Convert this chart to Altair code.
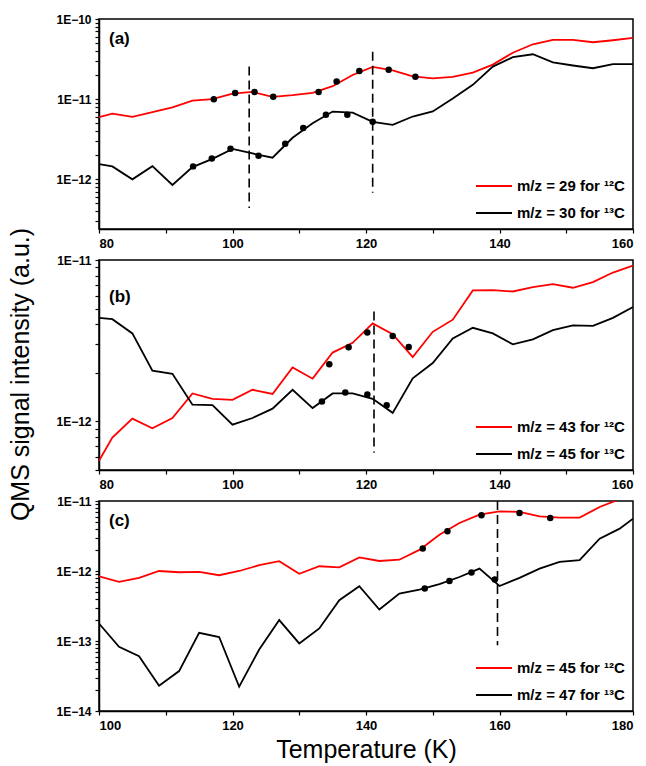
import altair as alt
import pandas as pd

# ---------------- data ----------------
T_AB = [80, 82, 85, 88, 91, 94, 97, 100, 103, 106, 109, 112, 115, 118, 121,
        124, 127, 130, 133, 136, 139, 142, 145, 148, 151, 154, 157, 160]
T_C = [100, 103, 106, 109, 112, 115, 118, 121, 124, 127, 130, 133, 136, 139,
       142, 145, 148, 151, 154, 157, 160, 163, 166, 169, 172, 175, 178, 180]

a_red = [5.97e-12, 6.6e-12, 6.0e-12, 6.9e-12, 7.9e-12, 9.6e-12, 1.0e-11, 1.17e-11,
         1.23e-11, 1.07e-11, 1.12e-11, 1.2e-11, 1.45e-11, 2.0e-11, 2.52e-11, 2.28e-11,
         1.92e-11, 1.82e-11, 1.9e-11, 2.15e-11, 2.7e-11, 3.8e-11, 4.84e-11, 5.48e-11,
         5.48e-11, 5.13e-11, 5.43e-11, 5.8e-11]
a_black = [1.55e-12, 1.45e-12, 1.0e-12, 1.46e-12, 8.5e-13, 1.42e-12, 1.8e-12, 2.4e-12,
           2.1e-12, 1.86e-12, 3.3e-12, 5.0e-12, 7.0e-12, 6.8e-12, 5.2e-12, 4.78e-12,
           6.07e-12, 7.03e-12, 1.02e-11, 1.51e-11, 2.55e-11, 3.34e-11, 3.63e-11, 2.88e-11,
           2.63e-11, 2.43e-11, 2.73e-11, 2.73e-11]

b_red = [5.7e-13, 7.94e-13, 1.04e-12, 9.06e-13, 1.05e-12, 1.49e-12, 1.38e-12, 1.36e-12,
         1.57e-12, 1.48e-12, 2.16e-12, 1.84e-12, 2.67e-12, 3.07e-12, 4.05e-12, 3.47e-12,
         2.5e-12, 3.59e-12, 4.27e-12, 6.48e-12, 6.5e-12, 6.38e-12, 6.79e-12, 7.08e-12,
         6.73e-12, 7.29e-12, 8.36e-12, 9.23e-12]
b_black = [4.38e-12, 4.3e-12, 3.51e-12, 2.06e-12, 1.97e-12, 1.27e-12, 1.26e-12, 9.54e-13,
           1.05e-12, 1.2e-12, 1.57e-12, 1.21e-12, 1.49e-12, 1.49e-12, 1.38e-12, 1.13e-12,
           1.85e-12, 2.3e-12, 3.27e-12, 3.8e-12, 3.51e-12, 3.0e-12, 3.22e-12, 3.68e-12,
           3.93e-12, 3.91e-12, 4.38e-12, 5.12e-12]

c_red = [8.4e-13, 6.98e-13, 7.97e-13, 1.0e-12, 9.6e-13, 9.7e-13, 8.7e-13, 1.0e-12,
         1.21e-12, 1.38e-12, 9.1e-13, 1.17e-12, 1.13e-12, 1.56e-12, 1.39e-12, 1.45e-12,
         2.0e-12, 3.3e-12, 4.86e-12, 6.4e-12, 7.1e-12, 6.97e-12, 6.04e-12, 5.78e-12,
         5.78e-12, 8.2e-12, 1.06e-11, 1.2e-11]
c_black = [1.78e-13, 8.26e-14, 6.08e-14, 2.3e-14, 3.72e-14, 1.31e-13, 1.14e-13, 2.22e-14,
           7.57e-14, 1.99e-13, 9.23e-14, 1.51e-13, 3.83e-13, 6.06e-13, 2.82e-13, 4.77e-13,
           5.4e-13, 6.5e-13, 8.2e-13, 1.08e-12, 6.1e-13, 7.98e-13, 1.08e-12, 1.35e-12,
           1.43e-12, 2.9e-12, 4.03e-12, 5.6e-12]

# marker dots
a_dot_T = [97.2, 100.4, 103.3, 106.1, 112.9, 115.6, 119.0, 123.4, 127.4,
           94.1, 96.9, 99.7, 103.9, 107.9, 110.6, 114.0, 117.2, 121.0]
a_dot_v = [1.0e-11, 1.19e-11, 1.23e-11, 1.07e-11, 1.23e-11, 1.66e-11, 2.25e-11, 2.32e-11, 1.9e-11,
           1.45e-12, 1.82e-12, 2.4e-12, 1.97e-12, 2.77e-12, 4.36e-12, 6.38e-12, 6.38e-12, 5.21e-12]
b_dot_T = [114.5, 117.4, 120.2, 124.0, 126.4, 113.4, 116.9, 120.2, 123.1]
b_dot_v = [2.26e-12, 2.88e-12, 3.56e-12, 3.38e-12, 2.89e-12, 1.33e-12, 1.51e-12, 1.47e-12, 1.26e-12]
c_dot_T = [148.5, 152.2, 157.3, 163.0, 167.6, 148.8, 152.5, 155.8, 159.3]
c_dot_v = [2.09e-12, 3.69e-12, 6.25e-12, 6.74e-12, 5.71e-12, 5.61e-13, 7.22e-13, 9.5e-13, 7.55e-13]

# dashed markers
a_dash_T = [102.5, 121.0]
a_dash_top = [2.55e-11, 3.9e-11]
a_dash_bot = [4.4e-13, 6.8e-13]
b_dash_T = [121.2]
b_dash_top = [4.8e-12]
b_dash_bot = [6.4e-13]
c_dash_T = [159.7]
c_dash_top = [1e-11]
c_dash_bot = [8.7e-14]

a_names = ["m/z = 29 for \u00b9\u00b2C", "m/z = 30 for \u00b9\u00b3C"]
b_names = ["m/z = 43 for \u00b9\u00b2C", "m/z = 45 for \u00b9\u00b3C"]
c_names = ["m/z = 45 for \u00b9\u00b2C", "m/z = 47 for \u00b9\u00b3C"]

FONT = "Liberation Sans"
W, H = 534, 210


def log_values(lo_exp, hi_exp):
    vals = []
    for e in range(lo_exp, hi_exp):
        for k in range(1, 10):
            vals.append(float(f"{k}e{e}"))
    vals.append(float(f"1e{hi_exp}"))
    return vals


Y_LABEL_EXPR = ("abs(log(datum.value)/LN10 - round(log(datum.value)/LN10)) < 0.001 ? "
                "'1E\u2212' + (-round(log(datum.value)/LN10)) : ''")
X_LABEL_EXPR = "datum.value % 20 == 0 ? datum.value : ''"


def panel(T, red, black, names, dot_T, dot_v, dash_T, dash_top, dash_bot,
          xdom, ydom, yvals, tag, tag_y, ytitle=None, xtitle=None):
    df = pd.DataFrame({
        "T": T + T,
        "v": red + black,
        "series": [names[0]] * len(T) + [names[1]] * len(T),
        "order": list(range(len(T))) * 2,
    })
    yaxis_kw = dict(values=yvals, labelExpr=Y_LABEL_EXPR, grid=False, tickSize=4,
                    labelFontSize=12, labelFontWeight="bold", labelPadding=4)
    if ytitle:
        yaxis_kw.update(title=ytitle, titleFontSize=25, titleFontWeight="normal",
                        titleX=-71, titleY=114, titleBaseline="alphabetic", titleAlign="center")
    else:
        yaxis_kw.update(title=None)
    xaxis_kw = dict(values=list(range(xdom[0], xdom[1] + 1, 10)), labelExpr=X_LABEL_EXPR,
                    grid=False, tickSize=4, labelFontSize=13, labelFontWeight="bold",
                    labelPadding=4)
    if xtitle:
        xaxis_kw.update(title=xtitle, titleFontSize=25, titleFontWeight="normal", titlePadding=5)
    else:
        xaxis_kw.update(title=None)

    xenc = alt.X("T:Q", scale=alt.Scale(domain=xdom, nice=False, zero=False),
                 axis=alt.Axis(**xaxis_kw))
    yenc = alt.Y("v:Q", scale=alt.Scale(type="log", domain=ydom, nice=False),
                 axis=alt.Axis(**yaxis_kw))

    lines = alt.Chart(df).mark_line(clip=True, strokeWidth=1.8).encode(
        x=xenc, y=yenc,
        color=alt.Color("series:N",
                        scale=alt.Scale(domain=names, range=["#ff0000", "#000000"]),
                        legend=alt.Legend(title=None, orient="bottom-right", offset=8,
                                          symbolType="stroke", symbolSize=1296,
                                          symbolStrokeWidth=2, labelFontSize=15,
                                          labelFontWeight="bold", labelFont=FONT,
                                          labelColor="black", rowPadding=-19,
                                          labelOffset=4, padding=0)),
        order="order:Q",
    )
    dots = alt.Chart(pd.DataFrame({"T": dot_T, "v": dot_v})).mark_circle(
        size=42, color="black", opacity=1, clip=True).encode(x="T:Q", y="v:Q")
    dashes = alt.Chart(pd.DataFrame({"T": dash_T, "top": dash_top, "bot": dash_bot})).mark_rule(
        strokeDash=[9, 5], strokeWidth=1.6, color="black", clip=True).encode(
        x="T:Q", y="top:Q", y2="bot:Q")
    label = alt.Chart(pd.DataFrame({"t": [tag]})).mark_text(
        align="left", baseline="middle", fontSize=17, fontWeight="bold", font=FONT,
        color="black").encode(text="t:N", x=alt.value(10), y=alt.value(tag_y))
    return alt.layer(lines, dashes, dots, label).properties(width=W, height=H)


pa = panel(T_AB, a_red, a_black, a_names, a_dot_T, a_dot_v, a_dash_T, a_dash_top, a_dash_bot,
           [80, 160], [2.4e-13, 1e-10], log_values(-13, -10)[1:], "(a)", 20)
pb = panel(T_AB, b_red, b_black, b_names, b_dot_T, b_dot_v, b_dash_T, b_dash_top, b_dash_bot,
           [80, 160], [5e-13, 1e-11], log_values(-13, -11)[4:], "(b)", 37,
           ytitle="QMS signal intensity (a.u.)")
pc = panel(T_C, c_red, c_black, c_names, c_dot_T, c_dot_v, c_dash_T, c_dash_top, c_dash_bot,
           [100, 180], [1e-14, 1e-11], log_values(-14, -11), "(c)", 20,
           xtitle="Temperature (K)")

chart = alt.vconcat(pa, pb, pc, spacing=31, bounds="flush").resolve_scale(
    x="independent", y="independent", color="independent"
).properties(
    padding={"left": 7, "top": 12, "right": 0, "bottom": 0},
    background="white",
).configure_view(
    stroke="black", strokeWidth=1.5
).configure_axis(
    labelFont=FONT, titleFont=FONT, labelColor="black", titleColor="black",
    tickColor="black", domainColor="black", domainWidth=1.5, tickWidth=1.2,
)

chart.save("out.html", embed_options={"renderer": "svg", "actions": False})
